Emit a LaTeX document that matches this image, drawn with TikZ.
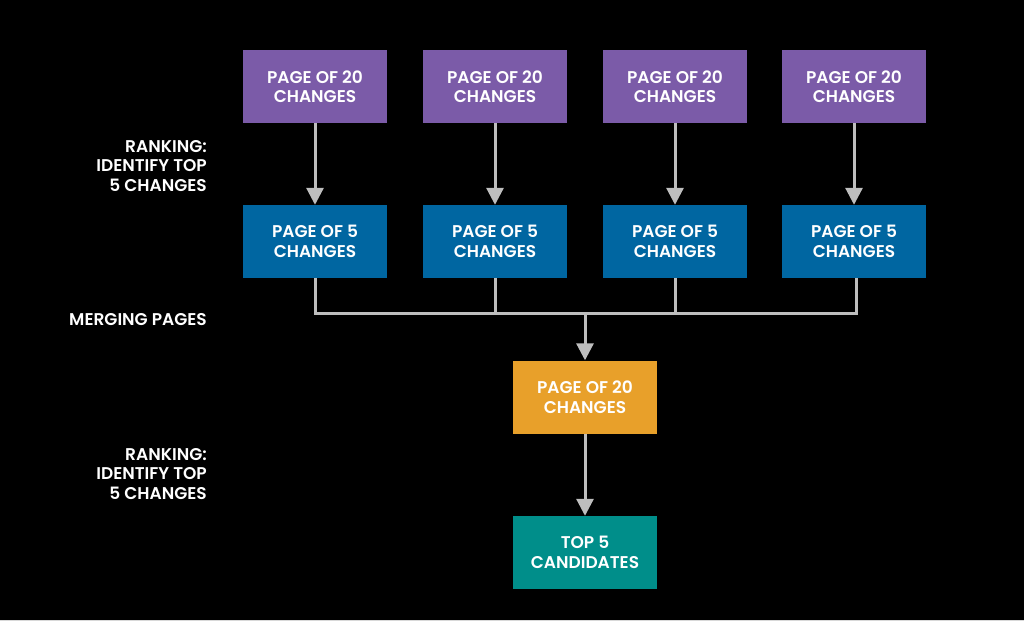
\documentclass[tikz,border=0pt]{standalone}
\usepackage{fontspec}
\setmainfont{Poppins}[UprightFont=*-SemiBold,BoldFont=*-Bold]
\usetikzlibrary{arrows.meta}
\definecolor{cpurple}{HTML}{7B5BA8}
\definecolor{cblue}{HTML}{0066A1}
\definecolor{corange}{HTML}{E8A02A}
\definecolor{cteal}{HTML}{008E8A}
\definecolor{cgray}{HTML}{BEBEBE}
\tikzset{
  box/.style={minimum width=144pt, minimum height=73pt, inner sep=0pt, text=white, align=center, font=\fontsize{17pt}{19.5pt}\selectfont},
  lbl/.style={text=white, align=right, anchor=east, font=\fontsize{17pt}{19.5pt}\selectfont, inner sep=0pt},
  conn/.style={draw=cgray, line width=3pt},
  arr/.style={conn, -{Triangle[length=17pt,width=17pt]}},
}
\begin{document}
\begin{tikzpicture}[x=1pt,y=-1pt]
\useasboundingbox (0,0) rectangle (1024,621);
\fill[black] (0,0) rectangle (1024,621);
\fill[cgray!60] (0,619.5) rectangle (1024,621);
\foreach \i/\x in {1/315,2/495,3/675,4/854}{
  \node[box, fill=cpurple] (p\i) at (\x,86.5) {PAGE OF 20\\CHANGES};
  \node[box, fill=cblue] (b\i) at (\x,241.5) {PAGE OF 5\\CHANGES};
  \draw[arr] (p\i.south) -- (b\i.north);
}
\node[box, fill=corange] (o) at (585,397) {PAGE OF 20\\CHANGES};
\node[box, fill=cteal] (t) at (585,552.5) {TOP 5\\CANDIDATES};
\coordinate (m1) at (315,313);
\coordinate (m4) at (856,313);
\coordinate (mc) at (585,313);
\draw[conn] (b1.south) -- (m1) -- (m4) -- (b4.south -| m4);
\draw[conn] (b2.south) -- (b2.south |- mc);
\draw[conn] (b3.south) -- (b3.south |- mc);
\draw[arr] (mc) -- (o.north);
\draw[arr] (o.south) -- (t.north);
\node[lbl] (l1) at (207,166) {RANKING:\\IDENTIFY TOP\\5 CHANGES};
\node[lbl] (l2) at (207,320) {MERGING PAGES};
\node[lbl] (l3) at (207,474) {RANKING:\\IDENTIFY TOP\\5 CHANGES};
\end{tikzpicture}
\end{document}
